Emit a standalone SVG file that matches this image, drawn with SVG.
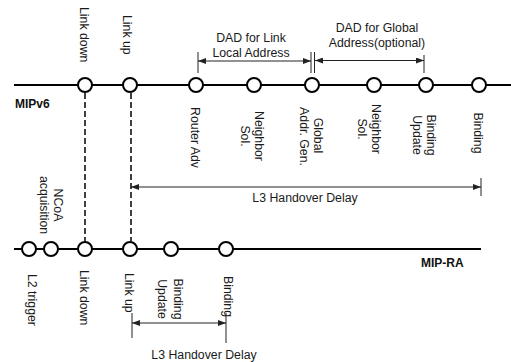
<svg xmlns="http://www.w3.org/2000/svg" width="511" height="362" viewBox="0 0 511 362">
<style>
.t{font-family:"Liberation Sans",Arial,sans-serif;font-size:12.3px;fill:#1a1a1a}
.m{text-anchor:middle}
.b{font-family:"Liberation Sans",Arial,sans-serif;font-size:12px;font-weight:bold;fill:#111}
.line{stroke:#000;stroke-width:2;fill:none}
.node{fill:#fff;stroke:#000;stroke-width:2}
.dash{stroke:#000;stroke-width:1.5;stroke-dasharray:6,3;fill:none}
.arr{stroke:#222;stroke-width:1;fill:none;marker-start:url(#ah);marker-end:url(#ah)}
.tick{stroke:#222;stroke-width:1;fill:none}
</style>
<defs>
<marker id="ah" viewBox="0 0 8 6" refX="8" refY="3" markerWidth="8" markerHeight="6" markerUnits="userSpaceOnUse" orient="auto-start-reverse">
<path d="M0,0 L8,3 L0,6 z" fill="#222"/>
</marker>
</defs>

<g id="timelines">
<line class="line" x1="14" y1="85" x2="511" y2="85"/>
<line class="line" x1="14" y1="249" x2="481" y2="249"/>
<text class="b" x="15" y="108">MIPv6</text>
<text class="b" x="421" y="267">MIP-RA</text>
</g>

<g id="connectors">
<line class="dash" x1="85" y1="93" x2="85" y2="241"/>
<line class="dash" x1="131" y1="93" x2="131" y2="241"/>
<line class="tick" x1="198" y1="52" x2="198" y2="73"/>
<line class="tick" x1="311" y1="52" x2="311" y2="73"/>
<line class="tick" x1="314.5" y1="52" x2="314.5" y2="73"/>
<line class="tick" x1="424" y1="55" x2="424" y2="73"/>
<line class="arr" x1="198" y1="61" x2="311" y2="61"/>
<line class="arr" x1="315" y1="60.5" x2="424" y2="60.5"/>
<line class="tick" x1="481" y1="178" x2="481" y2="196"/>
<line class="arr" x1="131" y1="187" x2="481" y2="187"/>
<line class="tick" x1="132" y1="313" x2="132" y2="338"/>
<line class="tick" x1="226" y1="313" x2="226" y2="343"/>
<line class="arr" x1="132" y1="323" x2="226" y2="323"/>
</g>

<g id="labels">
<text class="t m" x="251" y="42">DAD for Link</text>
<text class="t m" x="251" y="57">Local Address</text>
<text class="t m" x="377" y="32">DAD for Global</text>
<text class="t m" x="377" y="47">Address(optional)</text>
<text class="t m" x="305" y="202">L3 Handover Delay</text>
<text class="t m" x="204" y="359">L3 Handover Delay</text>
</g>

<g id="n-linkdown-top"><circle class="node" cx="85" cy="85" r="7"/><text class="t" transform="translate(80,7) rotate(90)">Link down</text></g>
<g id="n-linkup-top"><circle class="node" cx="130" cy="85" r="7"/><text class="t" transform="translate(123,15) rotate(90)">Link up</text></g>
<g id="n-routeradv"><circle class="node" cx="196" cy="85" r="7"/><text class="t m" transform="translate(191,137.5) rotate(90)">Router Adv</text></g>
<g id="n-neighsol1"><circle class="node" cx="254" cy="85" r="7"/><text class="t m" transform="translate(254.5,136) rotate(90)">Neighbor</text><text class="t m" transform="translate(241,136) rotate(90)">Sol.</text></g>
<g id="n-globaladdr"><circle class="node" cx="312" cy="85" r="7"/><text class="t m" transform="translate(314,135.5) rotate(90)">Global</text><text class="t m" transform="translate(300,136.5) rotate(90)">Addr. Gen.</text></g>
<g id="n-neighsol2"><circle class="node" cx="374" cy="85" r="7"/><text class="t m" transform="translate(372,129) rotate(90)">Neighbor</text><text class="t m" transform="translate(358,129) rotate(90)">Sol.</text></g>
<g id="n-bu-top"><circle class="node" cx="426" cy="85" r="7"/><text class="t m" transform="translate(426.5,135) rotate(90)">Binding</text><text class="t m" transform="translate(413,135) rotate(90)">Update</text></g>
<g id="n-binding-top"><circle class="node" cx="479" cy="85" r="7"/><text class="t m" transform="translate(474,133) rotate(90)">Binding</text></g>

<g id="n-l2trigger"><circle class="node" cx="29" cy="249" r="7"/><text class="t" transform="translate(28,274) rotate(90)">L2 trigger</text></g>
<g id="n-ncoa"><circle class="node" cx="51" cy="249" r="7"/><text class="t m" transform="translate(54,205) rotate(90)">NCoA</text><text class="t m" transform="translate(40,205) rotate(90)">acquisition</text></g>
<g id="n-linkdown-bot"><circle class="node" cx="85" cy="249" r="7"/><text class="t" transform="translate(80,270) rotate(90)">Link down</text></g>
<g id="n-linkup-bot"><circle class="node" cx="130" cy="249" r="7"/><text class="t" transform="translate(125,273) rotate(90)">Link up</text></g>
<g id="n-bu-bot"><circle class="node" cx="171" cy="249" r="7"/><text class="t m" transform="translate(173.5,299) rotate(90)">Binding</text><text class="t m" transform="translate(158,299) rotate(90)">Update</text></g>
<g id="n-binding-bot"><circle class="node" cx="226" cy="249" r="7"/><text class="t" transform="translate(223.5,276) rotate(90)">Binding</text></g>
</svg>
